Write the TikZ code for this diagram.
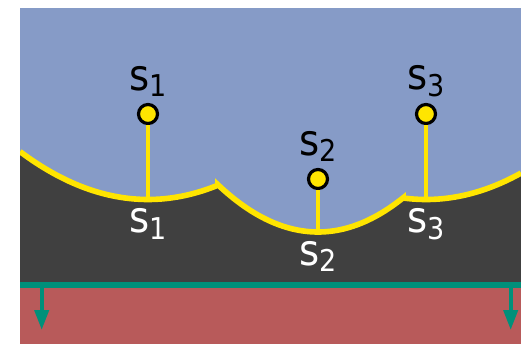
\documentclass[tikz,border=0pt]{standalone}
\usepackage{fontspec}
\setmainfont{DejaVu Sans Condensed}
\usetikzlibrary{arrows.meta, positioning}

\definecolor{skyblue}{HTML}{869BC7}
\definecolor{cellgray}{HTML}{404040}
\definecolor{floorred}{HTML}{B85A5A}
\definecolor{sweepteal}{HTML}{00907A}
\definecolor{siteyellow}{HTML}{FFE500}

\newcommand{\sitelabel}[1]{s\raisebox{-3.2pt}{\fontsize{15}{17}\selectfont #1}}

\begin{document}
\begin{tikzpicture}[
    x=0.5pt, y=-0.5pt,
    site/.style={circle, draw=black, fill=siteyellow, line width=1.6pt, minimum size=9.5pt, inner sep=0pt},
    toplabel/.style={font=\fontsize{21.5}{24}\selectfont, text=black, inner sep=0pt},
    botlabel/.style={font=\fontsize{21.5}{24}\selectfont, text=white, inner sep=0pt},
    beach/.style={draw=siteyellow, line width=2.8pt},
    drop/.style={draw=siteyellow, line width=1.6pt},
    sweep/.style={draw=sweepteal, line width=3pt},
    fall/.style={-{Triangle[length=10pt, width=7pt]}, draw=sweepteal, fill=sweepteal, line width=2pt}
]
    \useasboundingbox (0,0) rectangle (521,344);

    % regions
    \begin{scope}
        \clip (20,8) rectangle (521,344);
        \fill[skyblue] (20,8) rectangle (521,285);
        \fill[floorred] (20,285) rectangle (521,344);
        \fill[cellgray] (20,285) -- plot[domain=20:218, samples=50] (\x, {199.5-((\x-148)/18.493)^2})
            -- plot[domain=218:403, samples=60] (\x, {232-((\x-318)/14.56)^2})
            -- plot[domain=403:521, samples=40] (\x, {199.5-((\x-426)/18.493)^2})
            -- (521,285) -- cycle;
        \draw[beach] plot[domain=20:218, samples=50] (\x, {199.5-((\x-148)/18.493)^2})
            -- plot[domain=218:403, samples=60] (\x, {232-((\x-318)/14.56)^2})
            -- plot[domain=403:521, samples=40] (\x, {199.5-((\x-426)/18.493)^2});
    \end{scope}

    % sweep line
    \coordinate (sweepL) at (20,285);
    \coordinate (sweepR) at (521,285);
    \coordinate (dropL) at (41.7,285);
    \coordinate (tipL) at (41.7,330);
    \coordinate (dropR) at (510.7,285);
    \coordinate (tipR) at (510.7,330);
    \draw[fall] (dropL) -- (tipL);
    \draw[fall] (dropR) -- (tipR);
    \draw[sweep] (sweepL) -- (sweepR);

    % sites
    \coordinate (v1) at (148,199.5);
    \coordinate (v2) at (318,232);
    \coordinate (v3) at (426,199.5);
    \node[site] (site1) at (148,114) {};
    \node[site] (site2) at (318,179) {};
    \node[site] (site3) at (426,114) {};
    \draw[drop] (site1) -- (v1);
    \draw[drop] (site2) -- (v2);
    \draw[drop] (site3) -- (v3);

    \node[toplabel, above=3pt of site1] (top1) {\sitelabel{1}};
    \node[toplabel, above=3pt of site2] (top2) {\sitelabel{2}};
    \node[toplabel, above=3pt of site3] (top3) {\sitelabel{3}};
    \node[botlabel, below=4.5pt of v1] (bot1) {\sitelabel{1}};
    \node[botlabel, below=4.5pt of v2] (bot2) {\sitelabel{2}};
    \node[botlabel, below=4.5pt of v3] (bot3) {\sitelabel{3}};
\end{tikzpicture}
\end{document}
